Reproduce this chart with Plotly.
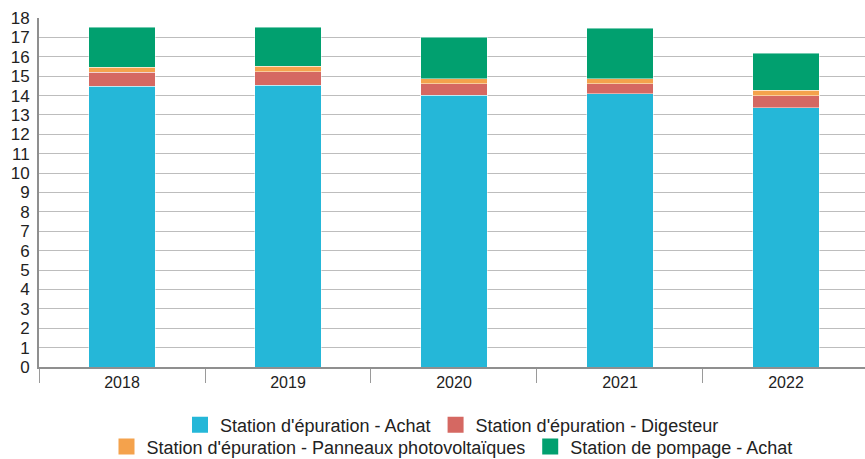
import plotly.graph_objects as go

years = ["2018", "2019", "2020", "2021", "2022"]
step_achat = [14.48, 14.54, 14.02, 14.09, 13.36]
step_digesteur = [0.71, 0.70, 0.58, 0.51, 0.64]
step_pv = [0.26, 0.28, 0.26, 0.26, 0.28]
pompage_achat = [2.08, 2.01, 2.16, 2.60, 1.91]
y_ticks = list(range(0, 19))

series = [
    ("Station d'épuration - Achat", step_achat, "#25b7d8", "legend"),
    ("Station d'épuration - Digesteur", step_digesteur, "#d56862", "legend"),
    ("Station d'épuration - Panneaux photovoltaïques", step_pv, "#f4a24c", "legend2"),
    ("Station de pompage - Achat", pompage_achat, "#01a06f", "legend2"),
]

fig = go.Figure()
for name, vals, color, leg in series:
    fig.add_trace(go.Bar(
        x=years, y=vals, name=name, showlegend=False,
        marker=dict(color=color, line=dict(color="rgba(255,255,255,0.45)", width=1)),
    ))
# legend entries with larger square swatches
for name, vals, color, leg in series:
    fig.add_trace(go.Scatter(
        x=[None], y=[None], name=name, legend=leg, mode="markers",
        marker=dict(symbol="square", size=16, color=color), hoverinfo="skip",
    ))

fam = "Liberation Sans, Arial, sans-serif"
leg_font = dict(family=fam, size=18, color="#222")
fig.update_layout(
    width=865, height=459,
    barmode="stack", bargap=0.6,
    plot_bgcolor="white", paper_bgcolor="white",
    margin=dict(l=39, r=0, t=18, b=92, autoexpand=False),
    font=dict(family=fam, size=16, color="#222"),
    showlegend=True,
    legend=dict(orientation="h", x=0.5, xanchor="center", y=-0.166, yanchor="middle",
                font=leg_font, bgcolor="rgba(0,0,0,0)", traceorder="normal",
                itemwidth=30),
    legend2=dict(orientation="h", x=0.5, xanchor="center", y=-0.229, yanchor="middle",
                 font=leg_font, bgcolor="rgba(0,0,0,0)", traceorder="normal",
                 itemwidth=30),
)
fig.update_yaxes(
    range=[0, 18], tickvals=y_ticks, ticktext=[str(v) for v in y_ticks],
    showgrid=True, gridcolor="#bdbdbd", gridwidth=1,
    showline=True, linecolor="#8f8f8f", linewidth=2,
    ticks="", ticklabelstandoff=4, zeroline=False, automargin=False,
    tickfont=dict(family=fam, size=17, color="#222"),
)
fig.update_xaxes(
    type="category", range=[-0.5, 4.476], tickson="boundaries", ticks="outside", ticklen=14,
    tickcolor="#9a9a9a", tickwidth=1,
    showline=True, linecolor="#8f8f8f", linewidth=1.5,
    showgrid=False, automargin=False,
    tickfont=dict(family=fam, size=16, color="#222"),
)
fig.write_html("out.html", config={"displayModeBar": False},
               post_script="document.body.style.margin='0';")
